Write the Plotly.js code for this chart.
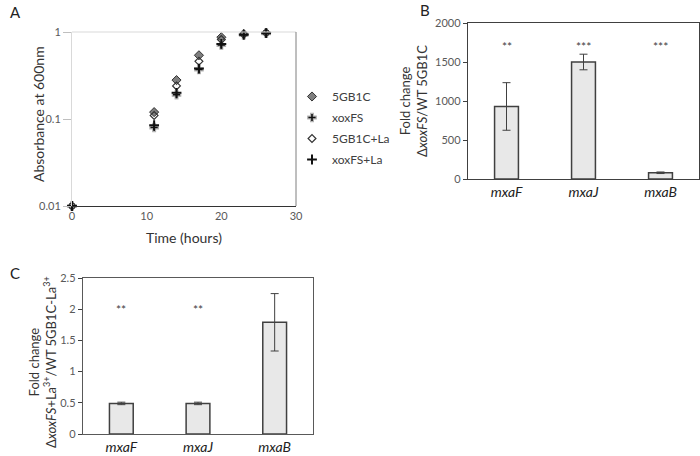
<!DOCTYPE html>
<html>
<head>
<meta charset="utf-8">
<script src="https://cdn.plot.ly/plotly-3.0.1.min.js"></script>
<style>html,body{margin:0;padding:0;background:#fff;}#chart{width:700px;height:456px;}</style>
</head>
<body>
<div id="chart"></div>
<script>
// ---------- Data ----------
const timeHours = [0, 11, 14, 17, 20, 23, 26];
const od_5GB1C    = [0.01, 0.12, 0.28, 0.54, 0.87, 0.95, 0.98];
const od_xoxFS    = [0.01, 0.08, 0.19, 0.37, 0.71, 0.93, 0.97];
const od_5GB1C_La = [0.01, 0.11, 0.24, 0.46, 0.82, 0.94, 0.98];
const od_xoxFS_La = [0.01, 0.085, 0.20, 0.38, 0.73, 0.93, 0.97];
const seriesNames = ['5GB1C', 'xoxFS', '5GB1C+La', 'xoxFS+La'];

const genes = ['mxaF', 'mxaJ', 'mxaB'];
const foldB = [930, 1500, 80];
const errB  = [305, 100, 10];
const sigB  = ['**', '***', '***'];
const sigBLevel = 1700;

const foldC = [0.49, 0.49, 1.79];
const errC  = [0.02, 0.02, 0.46];
const sigC  = ['**', '**', ''];
const sigCLevel = 2.0;

const yTicksA = [0.01, 0.1, 1];
const yTickTextA = ['0.01', '0.1', '1'];

// ---------- Style ----------
const FONT = 'Lato, "Open Sans", sans-serif';
const tickGray = '#595959';
const dark = '#404040';
const barFill = '#e8e8e8';

const traces = [
  {x: timeHours, y: od_5GB1C, name: seriesNames[0], legendgroup: 'g0', type: 'scatter', mode: 'markers', xaxis: 'x', yaxis: 'y', cliponaxis: false,
   marker: {symbol: 'diamond', size: 7, color: '#7f7f7f', line: {color: '#333', width: 1}}},
  {x: timeHours, y: od_xoxFS, name: seriesNames[1], legendgroup: 'g1', type: 'scatter', mode: 'markers', xaxis: 'x', yaxis: 'y', cliponaxis: false,
   marker: {symbol: 'cross', size: 7, color: '#111', line: {color: '#b5b5b5', width: 1.2}}},
  {x: timeHours, y: od_5GB1C_La, name: seriesNames[2], legendgroup: 'g2', type: 'scatter', mode: 'markers', xaxis: 'x', yaxis: 'y', cliponaxis: false,
   marker: {symbol: 'diamond-open', size: 6, color: '#333', line: {color: '#333', width: 1.2}}},
  {x: timeHours, y: od_xoxFS_La, name: seriesNames[3], legendgroup: 'g3', type: 'scatter', mode: 'markers', xaxis: 'x', yaxis: 'y', cliponaxis: false,
   marker: {symbol: 'cross-thin', size: 7, color: '#111', line: {color: '#111', width: 2}}},
  {x: genes, y: foldB, type: 'bar', xaxis: 'x2', yaxis: 'y2', showlegend: false, width: 0.31,
   marker: {color: barFill, line: {color: dark, width: 1.5}},
   error_y: {type: 'data', array: errB, visible: true, color: dark, thickness: 1, width: 4}},
  {x: genes, y: foldC, type: 'bar', xaxis: 'x3', yaxis: 'y3', showlegend: false, width: 0.31,
   marker: {color: barFill, line: {color: dark, width: 1.5}},
   error_y: {type: 'data', array: errC, visible: true, color: dark, thickness: 1, width: 4}}
];

const W = 700, H = 456;
const dx = (a, b) => [a / W, b / W];
const dy = (top, bottom) => [1 - bottom / H, 1 - top / H];

const annotations = [];
[['A', 8, 12], ['B', 418, 10], ['C', 8, 273]].forEach(([t, x, y]) => {
  annotations.push({text: t, x: x / W, y: 1 - y / H, xref: 'paper', yref: 'paper', showarrow: false,
    xanchor: 'left', yanchor: 'middle', font: {family: FONT, size: 15, color: '#222'}});
});
genes.forEach((g, i) => {
  if (sigB[i]) annotations.push({text: sigB[i], x: g, y: sigBLevel, xref: 'x2', yref: 'y2', showarrow: false,
    font: {family: FONT, size: 12, color: dark}});
  if (sigC[i]) annotations.push({text: sigC[i], x: g, y: sigCLevel, xref: 'x3', yref: 'y3', showarrow: false,
    font: {family: FONT, size: 12, color: dark}});
});
annotations.push({text: 'Absorbance at 600nm', x: 38 / W, y: 1 - 114 / H, xref: 'paper', yref: 'paper',
  showarrow: false, textangle: -90, xanchor: 'center', yanchor: 'middle', font: {family: FONT, size: 14, color: '#333'}});
annotations.push({text: 'Time (hours)', x: 184 / W, y: 1 - 238 / H, xref: 'paper', yref: 'paper',
  showarrow: false, xanchor: 'center', yanchor: 'middle', font: {family: FONT, size: 14, color: '#333'}});
annotations.push({text: 'Fold change<br>Δ<i>xoxFS</i>/WT 5GB1C', x: 414 / W, y: 1 - 101 / H, xref: 'paper', yref: 'paper',
  showarrow: false, textangle: -90, xanchor: 'center', yanchor: 'middle', font: {family: FONT, size: 13, color: '#333'}});
annotations.push({text: 'Fold change<br>Δ<i>xoxFS</i>+La<sup>3+</sup>/WT 5GB1C-La<sup>3+</sup>', x: 42 / W, y: 1 - 362 / H,
  xref: 'paper', yref: 'paper', showarrow: false, textangle: -90, xanchor: 'center', yanchor: 'middle',
  font: {family: FONT, size: 13, color: '#333'}});

const tickFont = {family: FONT, size: 11, color: tickGray};
const catFont = {family: FONT, size: 14, color: '#222', style: 'italic'};

const layout = {
  width: W, height: H, margin: {l: 0, r: 0, t: 0, b: 0},
  paper_bgcolor: '#fff', plot_bgcolor: '#fff',
  font: {family: FONT},
  showlegend: true,
  legend: {x: 292 / W, y: 1 - 82 / H, xanchor: 'left', yanchor: 'top', bgcolor: 'rgba(0,0,0,0)',
    font: {family: FONT, size: 12, color: '#404040'}, itemwidth: 30, tracegroupgap: 2, traceorder: 'grouped'},
  xaxis: {domain: dx(72, 296), range: [0, 30], tickvals: [0, 10, 20, 30], showgrid: false, zeroline: false,
    showline: true, linecolor: '#333', linewidth: 1.2, ticks: '', tickfont: tickFont, anchor: 'y', fixedrange: true},
  yaxis: {domain: dy(32, 206), type: 'log', range: [-2, 0], tickvals: yTicksA, ticktext: yTickTextA,
    showgrid: false, zeroline: false, showline: true, linecolor: '#d9d9d9', linewidth: 1,
    ticks: 'outside', ticklen: 8, tickcolor: '#bfbfbf', tickfont: tickFont, anchor: 'x'},
  xaxis2: {domain: dx(468, 699), type: 'category', showgrid: false, zeroline: false, showline: true, mirror: true,
    linecolor: dark, linewidth: 1.2, ticks: '', tickfont: catFont, anchor: 'y2'},
  yaxis2: {domain: dy(23, 179), range: [0, 2000], dtick: 500, showgrid: false, zeroline: false, showline: true,
    mirror: true, linecolor: dark, linewidth: 1.2, ticks: 'outside', ticklen: 4, tickcolor: dark,
    tickfont: tickFont, anchor: 'x2'},
  xaxis3: {domain: dx(83, 313), type: 'category', showgrid: false, zeroline: false, showline: true, mirror: true,
    linecolor: '#595959', linewidth: 1.2, ticks: '', tickfont: catFont, anchor: 'y3'},
  yaxis3: {domain: dy(278, 434), range: [0, 2.5], dtick: 0.5, showgrid: false, zeroline: false, showline: true,
    mirror: true, linecolor: '#595959', linewidth: 1.2, ticks: 'outside', ticklen: 4, tickcolor: dark,
    tickfont: tickFont, anchor: 'x3'},
  shapes: [
    {type: 'line', xref: 'x domain', yref: 'y domain', x0: 0, x1: 1, y0: 1, y1: 1, line: {color: '#d9d9d9', width: 1}},
    {type: 'line', xref: 'x domain', yref: 'y domain', x0: 1, x1: 1, y0: 0, y1: 1, line: {color: '#7f7f7f', width: 1}}
  ],
  annotations: annotations
};

Plotly.newPlot('chart', traces, layout, {displayModeBar: false, staticPlot: true});
</script>
</body>
</html>
